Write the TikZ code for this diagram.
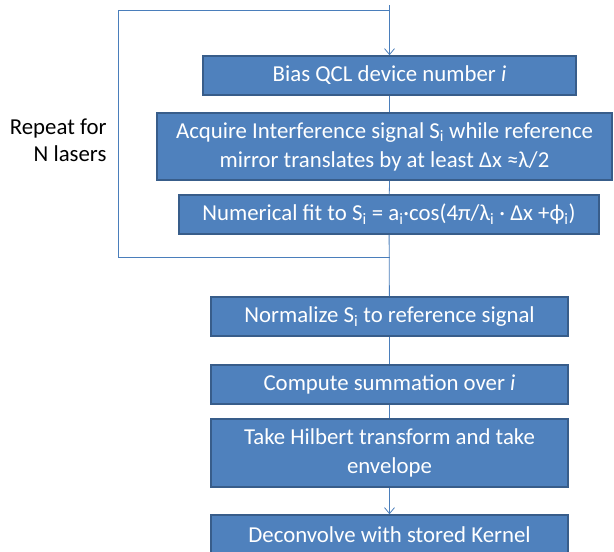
\documentclass[tikz,border=0pt]{standalone}
\usepackage{fontspec}
\setmainfont{Carlito}
\usetikzlibrary{arrows.meta}
\definecolor{boxfill}{HTML}{4F81BD}
\definecolor{boxedge}{HTML}{385D8A}
\definecolor{flowline}{HTML}{4A7EBB}
\newcommand{\sub}[1]{\textsubscript{#1}}

\tikzset{
 stepbox/.style={draw=boxedge, fill=boxfill, line width=1.6pt, text=white, align=center,
   font=\fontsize{22.8}{29}\selectfont, inner sep=0pt},
 flow/.style={flowline, line width=0.8pt},
 flowarrow/.style={flow, -{Straight Barb[length=6pt,width=10pt]}}
}

\begin{document}
\begin{tikzpicture}[x=1pt,y=-1pt]
\useasboundingbox[clip] (0,0) rectangle (614,552);
\fill[white] (0,0) rectangle (614,552);
% loop part
\node[stepbox, minimum width=373, minimum height=39] (bias) at (389.5,75.5)
  {Bias QCL device number \textit{i}};
\node[stepbox, minimum width=455, minimum height=67] (acq) at (384.5,146.5)
  {Acquire Interference signal S\sub{i} while reference\\ mirror translates by at least Δx ≈λ/2};
\node[stepbox, minimum width=420, minimum height=39] (fit) at (389,214.5)
  {Numerical fit to S\sub{i} = a\sub{i}·cos(4π/λ\sub{i} · Δx +ϕ\sub{i})};
% after the loop
\node[stepbox, minimum width=357, minimum height=39] (norm) at (389.5,316.5)
  {Normalize S\sub{i} to reference signal};
\node[stepbox, minimum width=357, minimum height=39] (comp) at (389.5,384.5)
  {Compute summation over \textit{i}};
\node[stepbox, minimum width=357, minimum height=68] (hilb) at (389.5,453)
  {Take Hilbert transform and take\\ envelope};
\node[stepbox, minimum width=357, minimum height=39] (deconv) at (389.5,534.5)
  {Deconvolve with stored Kernel};
\node[font=\fontsize{22.8}{27}\selectfont, align=right, anchor=east] (repeat) at (110,140)
  {Repeat for\\ N lasers};

\coordinate (start) at (389.5,5);
\coordinate (loopin) at (389.5,10);
\coordinate (loopout) at (389.5,257);
\draw[flowarrow] (start) -- (bias);
\draw[flow] (bias) -- (bias.south |- acq.north);
\draw[flow] (bias.south |- acq.south) -- (fit);
\draw[flow] (fit) -- (norm);
\draw[flow] (loopout) -- ++(-271.5,0) |- (loopin);
\draw[flow] (norm) -- (comp);
\draw[flow] (comp) -- (hilb);
\draw[flowarrow] (hilb) -- (deconv);
\end{tikzpicture}
\end{document}
